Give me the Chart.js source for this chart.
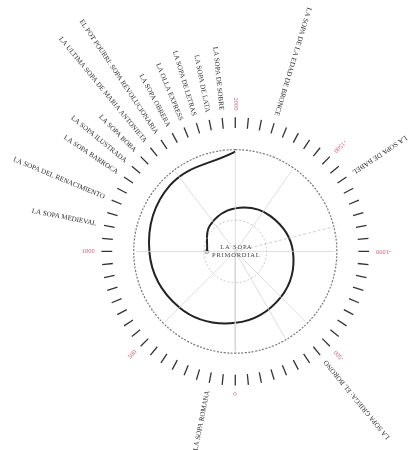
<!DOCTYPE html>
<html>
<head>
<meta charset="utf-8">
<script src="https://cdn.jsdelivr.net/npm/chart.js@4.4.1/dist/chart.umd.min.js"></script>
<style>
  body { margin: 0; background: #fff; }
  #wrap { width: 411px; height: 450px; position: relative; }
</style>
</head>
<body>
<div id="wrap"><canvas id="spiral"></canvas></div>
<script>
// posiciones en el dial en "años": -2000 arriba, 0 abajo, 2000 arriba de nuevo
const soupNames = [
    'LA SOPA MEDIEVAL', 'LA SOPA DEL RENACIMIENTO', 'LA SOPA BARROCA', 'LA SOPA ILUSTRADA',
    'LA SOPA BOBA', 'LA ULTIMA SOPA DE MARIA ANTONIETA', 'EL POT POURRI: SOPA REVOLUCIONARIA',
    'LA SOPA OBRERA', 'LA OLLA EXPRESS', 'LA SOPA DE LETRAS', 'LA SOPA DE LATA',
    'LA SOPA DE SOBRE', 'LA SOPA DE LA EDAD DE BRONCE', 'LA SOPA DE BABEL',
    'LA SOPA GRIEGA: EL BORONO', 'LA SOPA ROMANA'
];
const soupYears = [1125, 1250, 1375, 1437.5, 1500, 1562.5, 1625, 1687.5, 1750, 1812.5, 1875, 1937.5,
    -1812.5, -1375, -437.5, 125];

const yearLabels = ['2000', '-1500', '-1000', '-500', '0', '500', '1000'];
const yearTicks = [2000, -1500, -1000, -500, 0, 500, 1000];

// espiral: ángulo (grados, horario desde arriba) y radio
const spiralAngles = [270, 315, 360, 405, 450, 495, 540, 585, 630, 675, 720];
const spiralRadii = [29, 37, 44, 51, 59, 66, 73, 81, 88, 95, 102];

const spokeAngles = [0, 35, 90, 135, 150, 180, 225, 270, 323];

const toDeg = year => (year + 2000) * 360 / 4000;
const polar = (deg, r) => {
    let a = deg * Math.PI / 180;
    return { x: r * Math.sin(a), y: r * Math.cos(a) };
};
const gap = { x: null, y: null };

let tickData = [];
let ringData = [];
for (let yr = -2000; yr < 2000; yr += 62.5) {
    tickData.push(polar(toDeg(yr), 126), polar(toDeg(yr), 137), gap);
    ringData.push(polar(toDeg(yr), 104));
}
ringData.push(polar(0, 104));

let innerRing = [];
for (let d = 0; d <= 360; d += 15) innerRing.push(polar(d, 32));

let spokeData = [];
spokeAngles.forEach(a => spokeData.push(polar(a, 0), polar(a, 102), gap));

const spiralData = spiralAngles.map((a, i) => polar(a, spiralRadii[i]));

const serif = '"Liberation Serif", "DejaVu Serif", serif';

const labelsPlugin = {
    id: 'labels',
    afterDatasetsDraw(chart) {
        const { ctx, scales: { x, y } } = chart;
        const put = (deg, r, text, color, font) => {
            let p = polar(deg, r);
            let a = deg * Math.PI / 180;
            ctx.save();
            ctx.translate(x.getPixelForValue(p.x), y.getPixelForValue(p.y));
            ctx.rotate(Math.atan2(Math.cos(a), -Math.sin(a)));
            ctx.textAlign = 'right';
            ctx.textBaseline = 'middle';
            ctx.fillStyle = color;
            ctx.font = font;
            ctx.fillText(text, 0, 0);
            ctx.restore();
        };
        soupNames.forEach((n, i) => put(toDeg(soupYears[i]), 145, n, '#2a2a2a', '7px ' + serif));
        yearLabels.forEach((t, i) => put(toDeg(yearTicks[i]), 144, t, '#d0607a', '6.5px ' + serif));

        ctx.save();
        ctx.fillStyle = '#444';
        ctx.font = '6.5px ' + serif;
        ctx.letterSpacing = '0.8px';
        ctx.textAlign = 'center';
        ctx.textBaseline = 'middle';
        let cx = x.getPixelForValue(0), cy = y.getPixelForValue(0);
        ctx.fillText('LA SOPA', cx + 1, cy - 4);
        ctx.fillText('PRIMORDIAL', cx + 1, cy + 4);
        ctx.restore();
    }
};

new Chart(document.getElementById('spiral'), {
    type: 'scatter',
    data: {
        datasets: [
            { data: spokeData, showLine: true, borderColor: '#d4d4d4', borderWidth: 0.8, pointRadius: 0, tension: 0 },
            { data: innerRing, showLine: true, borderColor: '#bdbdbd', borderWidth: 0.8, borderDash: [2, 2], pointRadius: 0, tension: 0.4 },
            { data: [polar(0, 0), polar(76, 108)], showLine: true, borderColor: '#c4c4c4', borderWidth: 0.8, borderDash: [3, 2], pointRadius: 0 },
            { data: ringData, showLine: true, borderColor: '#777', borderWidth: 1.2, borderDash: [2, 1.5], pointRadius: 0, tension: 0.4 },
            { data: tickData, showLine: true, borderColor: '#333', borderWidth: 1.3, pointRadius: 0, tension: 0 },
            { data: spiralData, showLine: true, borderColor: '#222', borderWidth: 2, pointRadius: 0, tension: 0.4 },
            { data: [spiralData[0]], pointRadius: 2, pointBackgroundColor: '#fff', pointBorderColor: '#777', pointBorderWidth: 0.8 }
        ]
    },
    options: {
        responsive: true,
        maintainAspectRatio: false,
        animation: false,
        layout: { padding: 0 },
        plugins: { legend: { display: false }, tooltip: { enabled: false } },
        scales: {
            x: { type: 'linear', min: -236, max: 175, display: false },
            y: { type: 'linear', min: -198, max: 252, display: false }
        },
        elements: { line: { borderCapStyle: 'butt' } }
    },
    plugins: [labelsPlugin]
});
</script>
</body>
</html>
